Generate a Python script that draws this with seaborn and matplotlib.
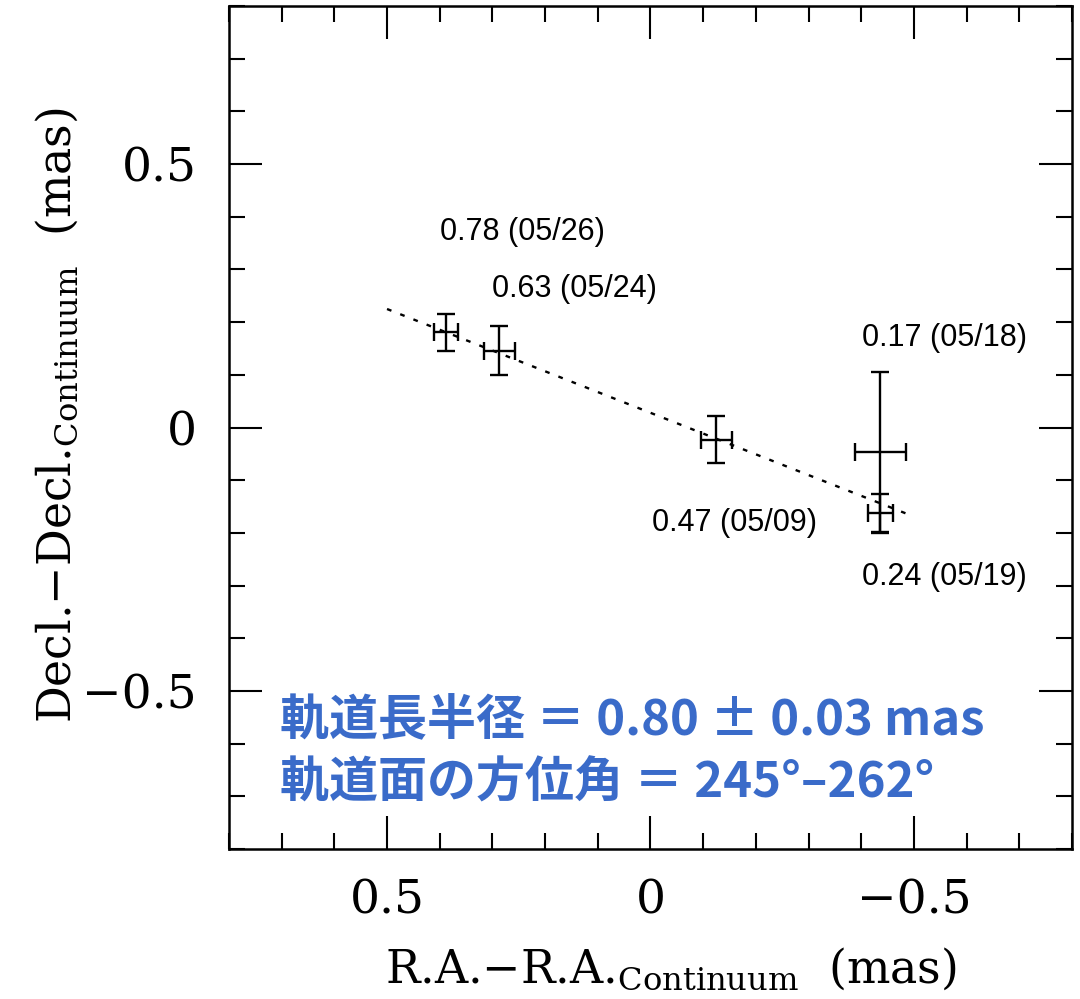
import matplotlib
matplotlib.use("Agg")
import matplotlib.pyplot as plt
import seaborn as sns
import pandas as pd
from matplotlib.ticker import MultipleLocator, FixedLocator

# Offsets of the line-emitting region relative to the continuum (mas)
phase_labels = ["0.78 (05/26)", "0.63 (05/24)", "0.47 (05/09)", "0.17 (05/18)", "0.24 (05/19)"]
ra_offset = [0.388, 0.287, -0.125, -0.436, -0.436]
dec_offset = [0.181, 0.146, -0.023, -0.047, -0.162]
ra_err = [0.023, 0.029, 0.030, 0.048, 0.024]
dec_err = [0.035, 0.046, 0.045, 0.153, 0.036]

# Label anchor points (data coordinates)
label_x = [0.40, 0.30, -0.003, -0.401, -0.401]
label_y = [0.371, 0.263, -0.181, 0.170, -0.284]

# Best-fit orbital plane direction
fit_x = [0.50, -0.49]
fit_y = [0.225, -0.165]

tick_major = [0.5, 0.0, -0.5]
tick_major_text = ["0.5", "0", "\u22120.5"]

summary_lines = ["軌道長半径 ＝ 0.80 ± 0.03 mas", "軌道面の方位角 ＝ 245°–262°"]

sns.set_theme(style="ticks")
plt.rcParams["mathtext.fontset"] = "dejavuserif"
plt.rcParams["font.family"] = ["DejaVu Serif"]
plt.rcParams["text.color"] = "black"
plt.rcParams["axes.labelcolor"] = "black"

fig = plt.figure(figsize=(10.8, 9.99), dpi=100)
ax = fig.add_axes([0.212, 0.150, 0.7806, 0.844])

df = pd.DataFrame({"ra": ra_offset, "dec": dec_offset})
fit_df = pd.DataFrame({"ra": fit_x, "dec": fit_y})

sns.lineplot(data=fit_df, x="ra", y="dec", ax=ax, color="black",
             linestyle=(0, (2.0, 4.0)), linewidth=1.7, sort=False)
ax.errorbar(df["ra"], df["dec"], xerr=ra_err, yerr=dec_err, fmt="none",
            ecolor="black", elinewidth=1.7, capsize=6.5, capthick=1.7)

for txt, lx, ly in zip(phase_labels, label_x, label_y):
    ax.text(lx, ly, txt, ha="left", va="center", fontsize=22,
            family=["Liberation Sans"], color="black")

ax.set_xlim(0.8, -0.8)
ax.set_ylim(-0.8, 0.8)
ax.xaxis.set_major_locator(FixedLocator(tick_major))
ax.yaxis.set_major_locator(FixedLocator(tick_major))
ax.set_xticklabels(tick_major_text)
ax.set_yticklabels(tick_major_text)
ax.xaxis.set_minor_locator(MultipleLocator(0.1))
ax.yaxis.set_minor_locator(MultipleLocator(0.1))
ax.tick_params(which="both", direction="in", top=True, right=True,
               width=1.5, colors="black", labelsize=34)
ax.tick_params(which="major", length=24)
ax.tick_params(which="minor", length=11.5)
ax.tick_params(axis="x", which="major", pad=21)
ax.tick_params(axis="y", which="major", pad=23)
for sp in ax.spines.values():
    sp.set_linewidth(1.8)
    sp.set_color("black")

ax.set_xlabel(r"R.A.$-$R.A.$_{\mathrm{Continuum}}$  (mas)", fontsize=33)
ax.set_ylabel(r"Decl.$-$Decl.$_{\mathrm{Continuum}}$  (mas)", fontsize=33)
ax.xaxis.set_label_coords(0.524, -0.115)
ax.yaxis.set_label_coords(-0.176, 0.515)

for i, line in enumerate(summary_lines):
    ax.text(0.061, 0.152 - i * 0.0735, line, transform=ax.transAxes,
            ha="left", va="center", fontsize=35.3, fontweight="bold",
            color="#3A6BC9", family=["Noto Sans CJK JP", "DejaVu Sans"])

fig.savefig("out.png", dpi=100, facecolor="white")
